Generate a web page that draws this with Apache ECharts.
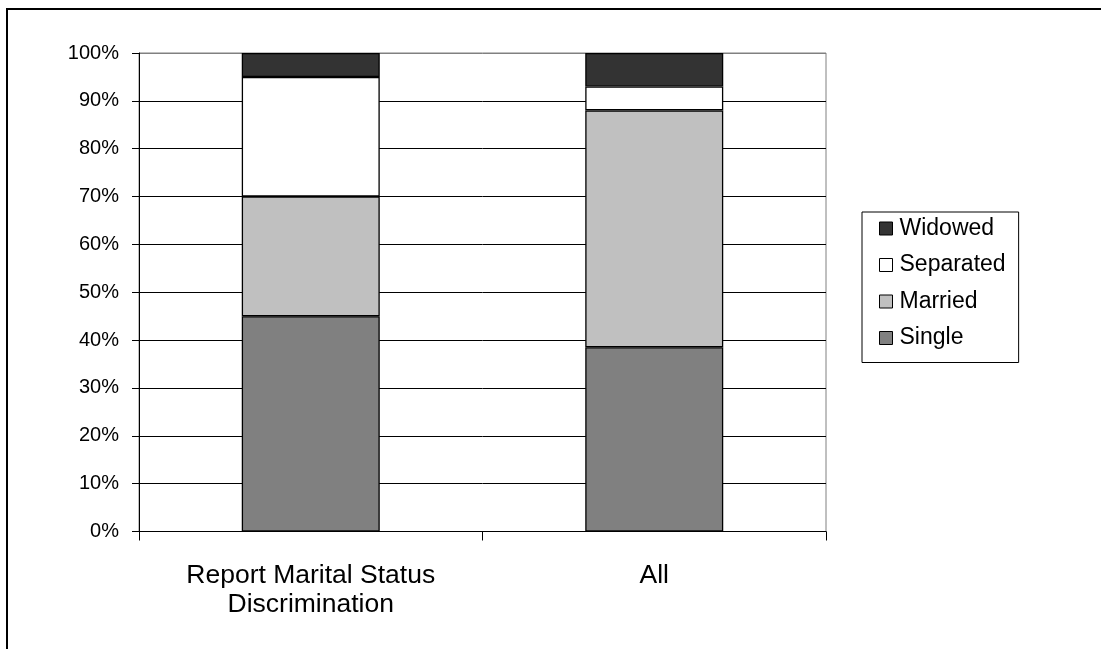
<!DOCTYPE html>
<html>
<head>
<meta charset="utf-8">
<script src="https://cdn.jsdelivr.net/npm/echarts@6/dist/echarts.min.js"></script>
<style>
html,body{margin:0;padding:0;background:#fff;}
#chart{width:1101px;height:649px;}
</style>
</head>
<body>
<div id="chart"></div>
<script>
const categories = ['Report Marital Status\nDiscrimination', 'All'];
const seriesNames = ['Single', 'Married', 'Separated', 'Widowed'];
const single = [45, 38.5];
const married = [25, 49.5];
const separated = [25, 5];
const widowed = [5, 7];
const yTicks = [0, 10, 20, 30, 40, 50, 60, 70, 80, 90, 100];

const colors = {Single:'#808080', Married:'#C0C0C0', Separated:'#FFFFFF', Widowed:'#333333'};
const dataMap = {Single: single, Married: married, Separated: separated, Widowed: widowed};
const font = "'Liberation Sans', Arial, sans-serif";

const chart = echarts.init(document.getElementById('chart'), null, {renderer:'canvas'});
const splitColors = yTicks.map((t, i) => i === yTicks.length - 1 ? '#808080' : '#000000');

chart.setOption({
  animation: false,
  backgroundColor: '#ffffff',
  graphic: [{
    type: 'rect',
    shape: {x: 7, y: 9, width: 1300, height: 1000},
    style: {fill: 'none', stroke: '#000', lineWidth: 2},
    silent: true, z: 100
  }],
  grid: {left: 139, top: 53, right: 275, bottom: 117.5, show: true, borderColor: '#808080', borderWidth: 1, backgroundColor: 'transparent'},
  legend: {
    orient: 'vertical',
    left: 862, top: 212,
    data: ['Widowed', 'Separated', 'Married', 'Single'],
    icon: 'rect',
    itemWidth: 13, itemHeight: 13,
    itemGap: 13.5,
    padding: [5, 13, 13, 17],
    borderColor: '#000', borderWidth: 1,
    backgroundColor: '#fff',
    itemStyle: {borderColor: '#000', borderWidth: 1},
    textStyle: {fontFamily: font, fontSize: 23, color: '#000', padding: [0,0,0,2]}
  },
  xAxis: {
    type: 'category',
    data: categories,
    boundaryGap: true,
    axisLine: {lineStyle: {color: '#000', width: 1}},
    axisTick: {show: true, length: 9, lineStyle: {color: '#000'}},
    axisLabel: {fontFamily: font, fontSize: 26.5, color: '#000', lineHeight: 29, margin: 30, interval: 0}
  },
  yAxis: {
    type: 'value',
    min: 0, max: 100, interval: 10,
    axisLine: {show: true, lineStyle: {color: '#000', width: 1}},
    axisTick: {show: true, length: 7, inside: false, lineStyle: {color: '#000'}},
    axisLabel: {fontFamily: font, fontSize: 20, color: '#000', margin: 20, formatter: '{value}%'},
    splitLine: {show: true, lineStyle: {color: splitColors, width: 1}}
  },
  series: seriesNames.map(name => ({
    name: name,
    type: 'bar',
    stack: 'total',
    barWidth: 138,
    data: dataMap[name],
    itemStyle: {color: colors[name], borderColor: '#000', borderWidth: 1.3}
  }))
});
</script>
</body>
</html>
